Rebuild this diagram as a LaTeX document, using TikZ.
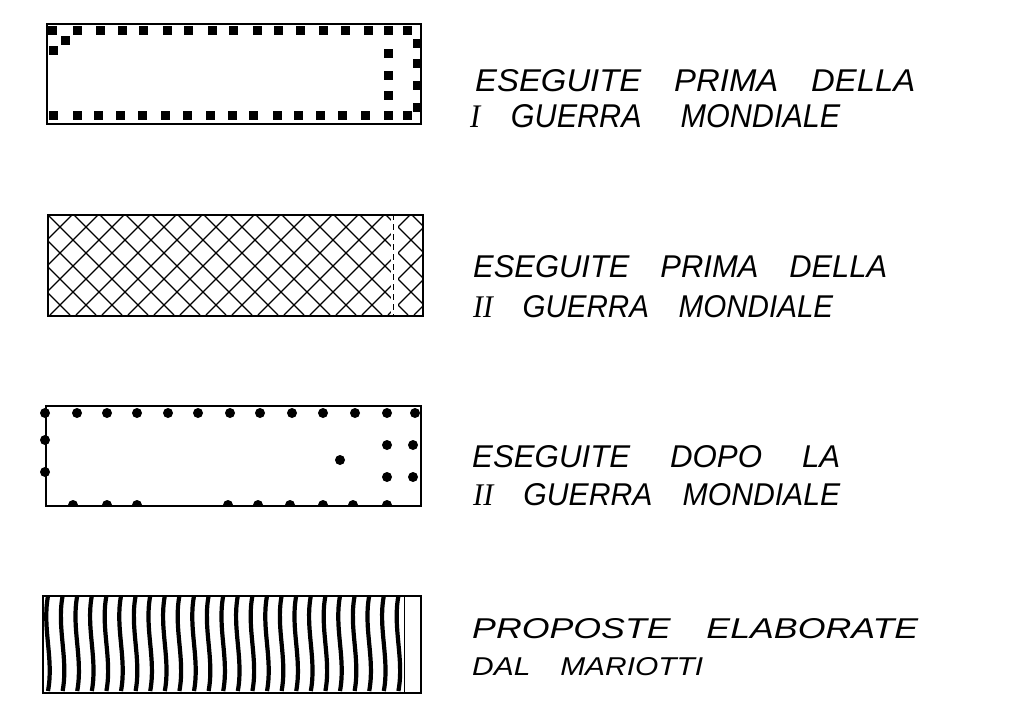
\documentclass[tikz,border=0pt]{standalone}
\usepackage{fontspec}
\setmainfont{Liberation Sans}
\newfontfamily\romanI{Liberation Serif}
\begin{document}
\begin{tikzpicture}[x=1pt,y=-1pt,
  frame/.style={draw=black,line width=1.8pt,inner sep=0pt,anchor=north west},
  hatch/.style={line width=1.2pt},
  wave/.style={line width=4.2pt},
  lbl/.style={anchor=base west,inner sep=0pt}]
\useasboundingbox (0,0) rectangle (1019,715);
\newcommand\sqm[2]{\fill (#1-4.5,#2-4.5) rectangle (#1+4.5,#2+4.5);}
\newcommand\dotm[2]{\fill (#1,#2) circle (5);}
\newcommand\lab[6]{\node[lbl] (#1) at (#2,#3) {\resizebox{#4pt}{#5pt}{\itshape #6}};}

% ---- box 1 : squares
\node[frame,minimum width=374pt,minimum height=100pt] (b1) at (46,23) {};
\foreach \x in {52,77,100,122,143,167,188,212,233,257,278,300,323,345,368,388,407} {\sqm{\x}{30}}
\foreach \x in {53,77,98,120,142,165,187,210,232,253,277,298,320,342,365,388,407} {\sqm{\x}{115}}
\foreach \y in {43,63,85,107} {\sqm{417}{\y}}
\foreach \y in {53,75,95} {\sqm{388}{\y}}
\sqm{65}{40}
\sqm{53}{50}

% ---- box 2 : crosshatch
\node[frame,minimum width=375pt,minimum height=101pt] (b2) at (47,214) {};
\begin{scope}
\clip (47,214) rectangle (422,315);
\foreach \k in {-5,...,19} {
  \draw[hatch] (47+26*\k,214) -- ++(101,101);
  \draw[hatch] (47+26*\k,214) -- ++(-101,101);
}
\fill[white] (391,216) rectangle (398,313);
\end{scope}
\draw[line width=1pt,dash pattern=on 6pt off 4pt] (393,214) -- (393,315);
\node[frame,minimum width=375pt,minimum height=101pt] at (47,214) {};

% ---- box 3 : dots
\node[frame,minimum width=375pt,minimum height=100pt] (b3) at (45,405) {};
\foreach \x in {45,77,107,137,168,198,230,260,292,323,355,387,415} {\dotm{\x}{413}}
\dotm{387}{445}\dotm{413}{445}\dotm{387}{477}\dotm{413}{477}
\dotm{340}{460}\dotm{45}{440}\dotm{45}{472}
\begin{scope}
\clip (40,490) rectangle (425,505);
\foreach \x in {73,107,137,228,258,290,323,353,387} {\fill (\x,505) circle (5);}
\end{scope}

% ---- box 4 : waves
\node[frame,minimum width=378pt,minimum height=97pt] (b4) at (42,595) {};
\foreach \k in {0,...,24} {
  \draw[wave] ({48+14.6*\k},596) .. controls +(-6,32) and +(6,-32) .. ({48+14.6*\k},691);
}
\draw[line width=1pt] (404,595) -- (404,692);

% ---- labels
\lab{t1a}{475}{91}{440}{22}{ESEGUITE\quad PRIMA\quad DELLA}
\lab{t1b}{470}{127}{370}{23}{{\romanI I}\quad GUERRA\quad\ MONDIALE}
\lab{t2a}{473}{277}{414}{22}{ESEGUITE\quad PRIMA\quad DELLA}
\lab{t2b}{473}{317}{360}{22}{{\romanI II}\quad GUERRA\quad MONDIALE}
\lab{t3a}{472}{467}{368}{22}{ESEGUITE\quad\ DOPO\quad\ LA}
\lab{t3b}{473}{505}{367}{22}{{\romanI II}\quad GUERRA\quad MONDIALE}
\lab{t4a}{472}{638}{446}{20}{PROPOSTE\quad ELABORATE}
\lab{t4b}{472}{675}{231}{18}{DAL\quad MARIOTTI}
\end{tikzpicture}
\end{document}
